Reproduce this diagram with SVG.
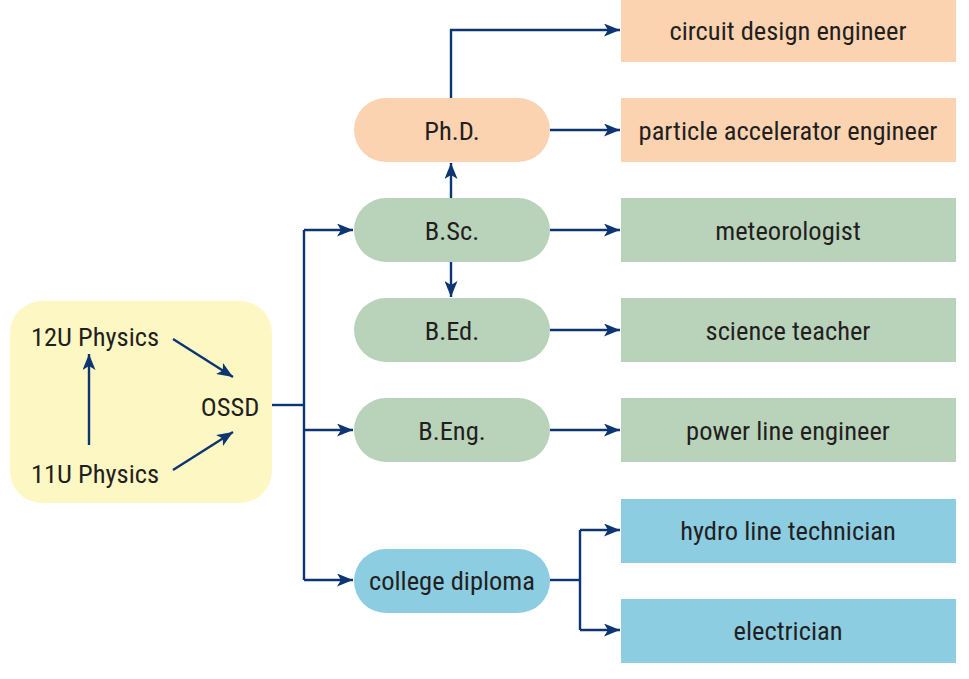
<svg xmlns="http://www.w3.org/2000/svg" width="969" height="679" viewBox="0 0 969 679">
<style>
text{font-family:"Liberation Sans Narrow","Roboto Condensed","Liberation Sans",sans-serif;font-size:26.5px;fill:#231f20;text-anchor:middle;dominant-baseline:central}
.orange{fill:#fcd3b1}.green{fill:#b9d3bb}.blue{fill:#8ccde2}.yellow{fill:#fdf8c3}
.ln{fill:none;stroke:#0d3572;stroke-width:2.4}
</style>
<defs>
<marker id="ah" viewBox="0 0 16 13" refX="16" refY="6.5" markerWidth="16" markerHeight="13" markerUnits="userSpaceOnUse" orient="auto">
<path d="M0,0 L16,6.5 L0,13 L4,6.5 z" fill="#0d3572"/>
</marker>
</defs>
<rect width="969" height="679" fill="#ffffff"/>
<g id="start">
<rect class="yellow" x="10" y="301" width="262" height="202" rx="32"/>
<text x="95" y="336">12U Physics</text>
<text x="95" y="473">11U Physics</text>
<text x="230" y="406">OSSD</text>
</g>
<g id="phd"><rect class="orange" x="354" y="98" width="196" height="64" rx="32"/><text x="452" y="130">Ph.D.</text></g>
<g id="bsc"><rect class="green" x="354" y="198" width="196" height="64" rx="32"/><text x="452" y="230">B.Sc.</text></g>
<g id="bed"><rect class="green" x="354" y="298" width="196" height="64" rx="32"/><text x="452" y="330">B.Ed.</text></g>
<g id="beng"><rect class="green" x="354" y="398" width="196" height="64" rx="32"/><text x="452" y="430">B.Eng.</text></g>
<g id="college"><rect class="blue" x="354" y="549" width="196" height="64" rx="32"/><text x="452" y="580">college diploma</text></g>
<g id="circuit"><rect class="orange" x="621" y="0" width="335" height="62"/><text x="788" y="30">circuit design engineer</text></g>
<g id="particle"><rect class="orange" x="621" y="98" width="335" height="64"/><text x="788" y="130">particle accelerator engineer</text></g>
<g id="meteo"><rect class="green" x="621" y="198" width="335" height="64"/><text x="788" y="230">meteorologist</text></g>
<g id="teacher"><rect class="green" x="621" y="298" width="335" height="64"/><text x="788" y="330">science teacher</text></g>
<g id="power"><rect class="green" x="621" y="398" width="335" height="64"/><text x="788" y="430">power line engineer</text></g>
<g id="hydro"><rect class="blue" x="621" y="499" width="335" height="64"/><text x="788" y="530">hydro line technician</text></g>
<g id="electrician"><rect class="blue" x="621" y="599" width="335" height="64"/><text x="788" y="630">electrician</text></g>
<g id="connectors">
<path class="ln" d="M89,445 V354" marker-end="url(#ah)"/>
<path class="ln" d="M173,339 L233,377" marker-end="url(#ah)"/>
<path class="ln" d="M173,470 L233,432" marker-end="url(#ah)"/>
<path class="ln" d="M272,405 H304"/>
<path class="ln" d="M304,230 V580"/>
<path class="ln" d="M304,230 H353" marker-end="url(#ah)"/>
<path class="ln" d="M304,430 H353" marker-end="url(#ah)"/>
<path class="ln" d="M304,580 H353" marker-end="url(#ah)"/>
<path class="ln" d="M451,98 V30 H620" marker-end="url(#ah)"/>
<path class="ln" d="M550,130 H620" marker-end="url(#ah)"/>
<path class="ln" d="M451,198 V163" marker-end="url(#ah)"/>
<path class="ln" d="M451,262 V297" marker-end="url(#ah)"/>
<path class="ln" d="M550,230 H620" marker-end="url(#ah)"/>
<path class="ln" d="M550,330 H620" marker-end="url(#ah)"/>
<path class="ln" d="M550,430 H620" marker-end="url(#ah)"/>
<path class="ln" d="M550,580 H580"/>
<path class="ln" d="M580,530 V630"/>
<path class="ln" d="M580,530 H620" marker-end="url(#ah)"/>
<path class="ln" d="M580,630 H620" marker-end="url(#ah)"/>
</g>
</svg>
